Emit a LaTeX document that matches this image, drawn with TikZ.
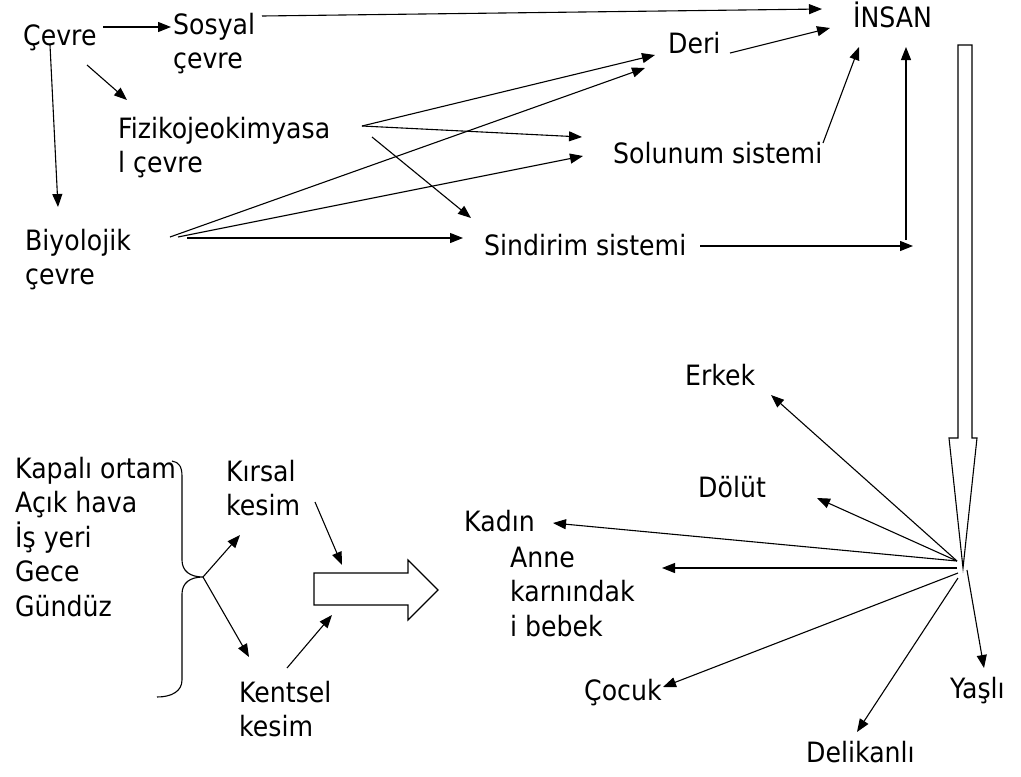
\documentclass[tikz,border=0pt]{standalone}
\usepackage{fontspec}
\setmainfont{DejaVu Sans}[FakeStretch=0.9]
\usetikzlibrary{arrows.meta}
\begin{document}
\begin{tikzpicture}[x=1pt,y=-1pt,
  lbl/.style={inner sep=0pt,anchor=base west,align=left,font=\fontsize{28}{34.5}\selectfont},
  arr/.style={line width=1.1pt,-{Triangle[length=13pt,width=10pt]}},
  plain/.style={line width=1.1pt},
  hollow/.style={line width=1.1pt,fill=white}]
\useasboundingbox (0,0) rectangle (1021,777);
% labels (multi-line nodes are placed by the baseline of their last line)
\node[lbl] (cevre) at (23,45) {Çevre};
\node[lbl] (sosyal) at (173,68.5) {Sosyal\\çevre};
\node[lbl] (insan) at (853,27) {İNSAN};
\node[lbl] (deri) at (668,53) {Deri};
\node[lbl] (fiziko) at (118,172.5) {Fizikojeokimyasa\\l çevre};
\node[lbl] (solunum) at (613,163) {Solunum sistemi};
\node[lbl] (biyo) at (25,284.5) {Biyolojik\\çevre};
\node[lbl] (sindirim) at (484,255) {Sindirim sistemi};
\node[lbl] (erkek) at (685,385) {Erkek};
\node[lbl] (dolut) at (698,497) {Dölüt};
\node[lbl] (kadin) at (464,531) {Kadın};
\node[lbl] (anne) at (510,636) {Anne\\karnındak\\i bebek};
\node[lbl] (cocuk) at (584,700) {Çocuk};
\node[lbl] (yasli) at (950,698) {Yaşlı};
\node[lbl] (delikanli) at (806,762) {Delikanlı};
\node[lbl] (kirsal) at (226,515.5) {Kırsal\\kesim};
\node[lbl] (kentsel) at (239,736.5) {Kentsel\\kesim};
\node[lbl] (ortam) at (15,616) {Kapalı ortam\\Açık hava\\İş yeri\\Gece\\Gündüz};
% coordinates
\coordinate (cR) at (103,27); \coordinate (sL) at (171,27);
\coordinate (cB) at (50,45); \coordinate (bT) at (58,207);
\coordinate (cD) at (87,65); \coordinate (fT) at (127,100);
\coordinate (sR) at (262,16); \coordinate (iA) at (822,9);
\coordinate (dR) at (730,53); \coordinate (iB) at (830,28);
\coordinate (soR) at (823,143); \coordinate (iC) at (859,47);
\coordinate (fO) at (362,126); \coordinate (fO2) at (372,137);
\coordinate (dA) at (655,55); \coordinate (dB) at (645,68);
\coordinate (soA) at (582,137); \coordinate (soB) at (583,156);
\coordinate (siA) at (471,218); \coordinate (siB) at (463,238);
\coordinate (bO1) at (170,237); \coordinate (bO2) at (178,237); \coordinate (bO3) at (187,238);
\coordinate (siR) at (700,246); \coordinate (siE) at (913,246);
\coordinate (vB) at (906,240); \coordinate (vT) at (906,47);
% top arrows
\draw[arr] (cR) -- (sL);
\draw[arr] (cB) -- (bT);
\draw[arr] (cD) -- (fT);
\draw[arr] (sR) -- (iA);
\draw[arr] (dR) -- (iB);
\draw[arr] (soR) -- (iC);
\draw[arr] (fO) -- (dA);
\draw[arr] (fO) -- (soA);
\draw[arr] (fO2) -- (siA);
\draw[arr] (bO1) -- (dB);
\draw[arr] (bO2) -- (soB);
\draw[arr] (bO3) -- (siB);
\draw[arr] (siR) -- (siE);
\draw[arr] (vB) -- (vT);
% big hollow down arrow
\draw[hollow] (958,45) -- (972,45) -- (972,438) -- (977,438) -- (963,568) -- (949,438) -- (958,438) -- cycle;
% starburst
\coordinate (h1) at (957,561); \coordinate (h2) at (957,568);
\coordinate (h3) at (958,573); \coordinate (h4) at (958,578); \coordinate (h5) at (967,570);
\coordinate (eT) at (771,395); \coordinate (dT) at (817,498); \coordinate (kT) at (553,523);
\coordinate (aT) at (662,568); \coordinate (cT) at (663,687); \coordinate (deT) at (857,732);
\coordinate (yT) at (984,668);
\draw[arr] (h1) -- (eT);
\draw[arr] (h1) -- (dT);
\draw[arr] (h1) -- (kT);
\draw[arr] (h2) -- (aT);
\draw[arr] (h3) -- (cT);
\draw[arr] (h4) -- (deT);
\draw[arr] (h5) -- (yT);
% brace
\coordinate (brT) at (203,577);
\draw[plain] (172,461) .. controls (179,462) and (182,467) .. (182,476) -- (182,560)
  .. controls (182,571) and (190,577) .. (brT)
  .. controls (190,577) and (182,583) .. (182,594) -- (182,680)
  .. controls (182,691) and (172,697) .. (157,697);
\coordinate (kiT) at (240,535); \coordinate (keT) at (249,657);
\draw[arr] (brT) -- (kiT);
\draw[arr] (brT) -- (keT);
% hollow right arrow
\draw[hollow] (314,573) -- (408,573) -- (408,560) -- (438,590) -- (408,620) -- (408,605) -- (314,605) -- cycle;
\coordinate (kiS) at (315,502); \coordinate (kiE) at (342,565);
\coordinate (keS) at (287,668); \coordinate (keE) at (332,615);
\draw[arr] (kiS) -- (kiE);
\draw[arr] (keS) -- (keE);
\end{tikzpicture}
\end{document}
